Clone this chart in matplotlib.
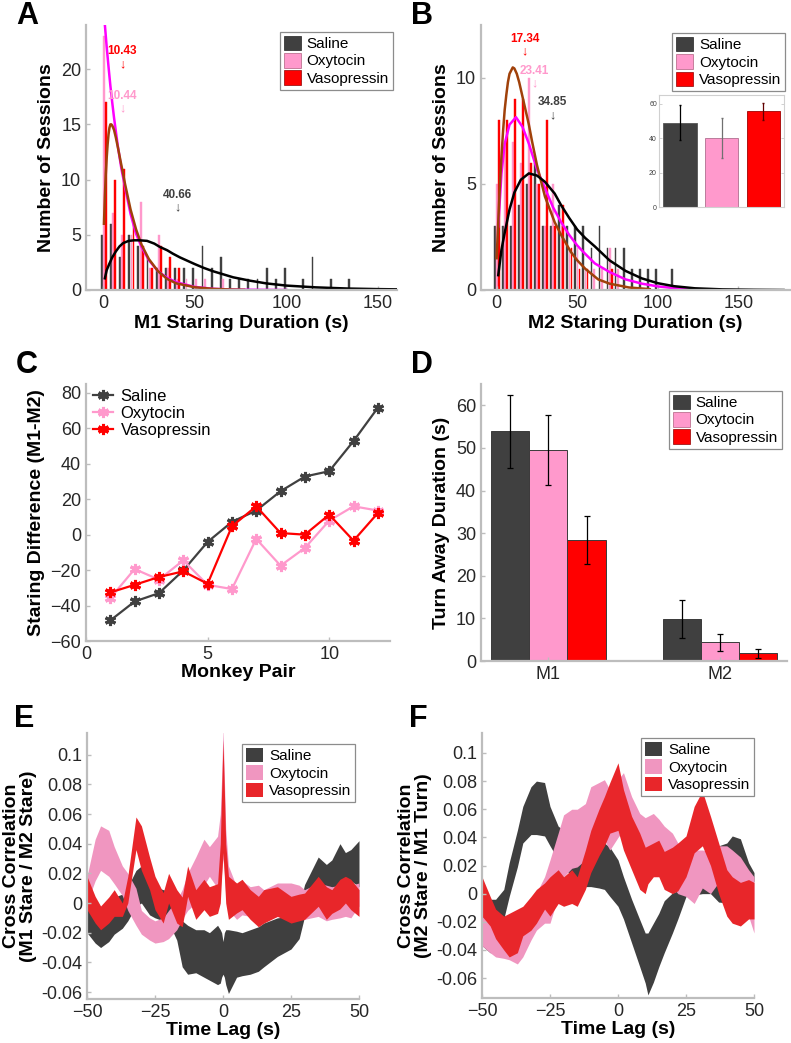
import matplotlib
matplotlib.use("Agg")
import matplotlib.pyplot as plt
import numpy as np
from matplotlib.patches import Patch

plt.rcParams["font.family"] = ["Liberation Sans", "DejaVu Sans"]

# ---- colours ----
C_SAL = "#404040"
C_OXY = "#FF99CC"
C_VAS = "#FF0000"
F_SAL = "#3F3F3F"
F_OXY = "#F096C0"
F_VAS = "#E8262A"
GROUPS = ["Saline", "Oxytocin", "Vasopressin"]

# ---- panel A: M1 staring duration histogram (bins of 5 s) ----
a_bins = [0, 5, 10, 15, 20, 25, 30, 35, 40, 45, 50, 55, 60, 65, 70, 75, 80, 85,
          90, 95, 100, 105, 110, 115, 120, 125, 130, 135]
a_saline = [5, 6, 3, 5, 4, 3, 2, 2, 2, 2, 2, 4, 2, 3, 1, 1, 1, 1, 2, 1, 2, 0, 1, 3, 0, 1, 0, 1]
a_oxy = [23, 7, 5, 5, 8, 2, 5, 2, 1, 1, 1, 1, 0, 1]
a_vaso = [17, 10, 11, 6, 4, 2, 4, 3, 2]

a_fit_oxy_x = [0, 1, 2, 3, 4, 5, 6, 8, 10, 12, 15, 18, 21, 25, 30, 35, 40, 50, 60, 70, 80, 90, 100]
a_fit_oxy_y = [26.5, 24, 22, 20.2, 18.5, 17, 15.6, 13.1, 11.0, 9.3, 6.9, 5.1, 3.9, 2.7, 1.7,
               1.1, 0.7, 0.28, 0.11, 0.04, 0.02, 0.01, 0.0]
a_fit_vas_x = [0.5, 1, 1.5, 2, 2.5, 3, 3.5, 4, 4.5, 5, 6, 7, 8, 10, 12, 15, 18, 21, 25, 30,
               35, 40, 50, 60, 70, 77]
a_fit_vas_y = [6, 8.5, 10.5, 12, 13.2, 14.1, 14.7, 15, 15, 14.9, 14.5, 13.8, 13.0, 11.3, 9.6,
               7.3, 5.5, 4.1, 2.8, 1.7, 1.0, 0.6, 0.25, 0.1, 0.04, 0.02]
a_fit_sal_x = [1, 2, 3.5, 5, 7, 9, 11, 14, 17, 20, 24, 28, 31, 35, 38, 42, 46, 50, 55, 60,
               65, 71, 80, 89, 100, 116, 134, 150, 160]
a_fit_sal_y = [1.06, 1.8, 2.4, 2.95, 3.5, 3.95, 4.25, 4.45, 4.5, 4.5, 4.45, 4.2, 3.9, 3.6,
               3.3, 2.95, 2.65, 2.35, 2.0, 1.7, 1.45, 1.15, 0.85, 0.6, 0.4, 0.24, 0.13, 0.08, 0.06]
a_means = [10.43, 10.44, 40.66]
a_mean_y = [21.6, 17.6, 8.6]

# ---- panel B: M2 staring duration histogram ----
b_bins = [0, 5, 10, 15, 20, 25, 30, 35, 40, 45, 50, 55, 60, 65, 70, 75, 80, 85, 90, 95,
          100, 105, 110]
b_saline = [3, 3, 3, 4, 5, 6, 3, 3, 4, 3, 3, 3, 2, 3, 2, 2, 2, 1, 1, 1, 1, 0, 1]
b_oxy = [5, 7, 7, 6, 10, 5, 3, 5, 3, 2, 2, 1, 1, 1, 2, 1]
b_vaso = [8, 8, 9, 9, 6, 5, 8, 3, 4, 2, 1, 1, 0, 0, 1]

b_fit_vas_x = [0, 1, 2, 3, 4, 5, 6, 7, 8, 10, 11, 12.5, 14, 15.5, 17, 20, 22, 25, 30, 36,
               40, 46, 50, 55, 63, 70, 82, 95]
b_fit_vas_y = [1.5, 3.2, 4.9, 6.3, 7.5, 8.5, 9.2, 9.8, 10.2, 10.5, 10.45, 10.2, 9.8, 9.3,
               8.8, 7.8, 7.0, 5.9, 4.4, 3.2, 2.6, 1.8, 1.4, 1.0, 0.5, 0.3, 0.12, 0.04]
b_fit_oxy_x = [1, 3, 5, 8, 12, 16, 20, 25, 30, 35, 40, 45, 50, 55, 61, 70, 80, 90, 100, 110,
               120, 129]
b_fit_oxy_y = [3.0, 5.5, 6.9, 7.8, 8.15, 7.7, 6.9, 5.7, 4.8, 3.9, 3.2, 2.6, 2.1, 1.7, 1.25,
               0.85, 0.5, 0.3, 0.17, 0.09, 0.04, 0.0]
b_fit_sal_x = [1, 3, 5, 8, 11, 15, 20, 25, 30, 36, 40, 45, 50, 55, 61, 70, 80, 90, 100, 110,
               123, 140, 160, 178]
b_fit_sal_y = [0.7, 1.9, 2.7, 3.8, 4.6, 5.2, 5.5, 5.4, 5.1, 4.55, 4.0, 3.4, 2.85, 2.45, 2.05,
               1.4, 0.9, 0.55, 0.32, 0.18, 0.08, 0.03, 0.01, 0.0]
b_means = [17.34, 23.41, 34.85]
b_mean_y = [11.84, 10.35, 8.85]

inset_means = [49, 40, 55.5]
inset_err_lo = [39, 28.3, 50.3]
inset_err_hi = [59, 51.5, 60.5]

# ---- panel C: staring difference per monkey pair ----
c_pairs = [1, 2, 3, 4, 5, 6, 7, 8, 9, 10, 11, 12]
c_saline = [-48.4, -37.7, -33.0, -20.2, -4.1, 7.2, 13.6, 24.5, 32.8, 35.8, 52.8, 71.6]
c_oxy = [-35.8, -19.4, -25.4, -14.5, -28.3, -30.7, -2.4, -17.5, -7.5, 7.9, 16.0, 13.6]
c_vaso = [-32.6, -28.3, -23.9, -20.7, -27.7, 4.7, 16.0, 0.9, 0.0, 11.3, -3.4, 12.2]

# ---- panel D: turn away duration ----
d_monkeys = ["M1", "M2"]
d_saline = [54.0, 9.9]
d_oxy = [49.5, 4.4]
d_vaso = [28.4, 1.8]
d_saline_lo = [45.3, 5.3]
d_saline_hi = [62.5, 14.4]
d_oxy_lo = [41.2, 2.3]
d_oxy_hi = [57.7, 6.4]
d_vaso_lo = [22.7, 0.8]
d_vaso_hi = [34.1, 2.9]

# ---- panel E: cross correlation M1 stare / M2 stare ----
e_lag = [-50, -47, -45, -42, -40, -37, -35, -32, -30, -27, -25, -22, -20, -17, -15, -13, -10,
         -7, -5, -2, -1, -0.5, 0, 0.5, 1, 2, 5, 7, 10, 13, 15, 20, 25, 28, 30, 35, 38, 40,
         43, 45, 47, 50]
e_sal_hi = [0.0, -0.003, -0.0045, -0.002, 0.004, 0.006, 0.011, 0.022, 0.025, 0.018, 0.011,
            0.009, 0.008, 0.0, -0.012, -0.015, -0.018, -0.018, -0.02, -0.015, -0.018, -0.02,
            -0.026, -0.02, -0.018, -0.018, -0.019, -0.02, -0.018, -0.016, -0.0135, -0.01,
            -0.009, -0.002, 0.0125, 0.031, 0.026, 0.029, 0.040, 0.034, 0.036, 0.042]
e_sal_lo = [-0.02, -0.027, -0.03, -0.026, -0.021, -0.017, -0.012, -0.002, 0.0, -0.008, -0.01,
            -0.012, -0.013, -0.025, -0.043, -0.048, -0.047, -0.05, -0.052, -0.055, -0.054,
            -0.05, -0.048, -0.05, -0.055, -0.061, -0.05, -0.049, -0.048, -0.046, -0.043,
            -0.036, -0.031, -0.024, -0.009, 0.009, 0.006, 0.009, 0.0135, 0.011, 0.015, 0.011]
e_oxy_hi = [0.018, 0.043, 0.052, 0.049, 0.038, 0.025, 0.02, 0.01, -0.005, -0.01, -0.012,
            -0.01, -0.005, 0.002, 0.009, 0.02, 0.031, 0.043, 0.038, 0.045, 0.06, 0.085, 0.118,
            0.085, 0.05, 0.025, 0.011, 0.015, 0.011, 0.012, 0.009, 0.0135, 0.0135, 0.012,
            0.009, 0.0135, 0.012, 0.011, 0.012, 0.009, 0.012, 0.0135]
e_oxy_lo = [0.0, 0.015, 0.022, 0.018, 0.013, 0.005, -0.005, -0.015, -0.021, -0.025, -0.027,
            -0.026, -0.024, -0.018, -0.011, -0.005, 0.0, 0.012, 0.018, 0.01, 0.01, 0.02, 0.03,
            0.02, 0.005, -0.0045, -0.011, -0.008, -0.009, -0.012, -0.012, -0.009, -0.0067,
            -0.01, -0.011, -0.009, -0.012, -0.011, -0.01, -0.009, -0.01, -0.002]
e_vas_hi = [0.018, 0.0045, -0.002, 0.004, 0.009, 0.0, 0.018, 0.058, 0.052, 0.031, 0.018,
            0.007, 0.02, 0.009, 0.004, 0.025, 0.009, 0.016, 0.011, 0.013, 0.04, 0.076, 0.11,
            0.076, 0.04, 0.018, 0.0135, 0.016, 0.009, 0.0045, 0.009, 0.011, 0.0045, 0.006,
            0.0067, 0.018, 0.011, 0.009, 0.016, 0.018, 0.016, 0.009]
e_vas_lo = [-0.0045, -0.0135, -0.018, -0.0135, -0.009, -0.009, 0.0, 0.036, 0.022, 0.009,
            -0.0045, -0.0135, 0.0, -0.0135, -0.016, 0.0045, -0.011, -0.0045, -0.009, -0.007,
            0.0, 0.018, 0.034, 0.018, 0.0, -0.011, -0.0067, -0.0045, -0.011, -0.016, -0.0135,
            -0.009, -0.0135, -0.012, -0.011, -0.0022, -0.011, -0.007, -0.004, 0.0, -0.0045,
            -0.009]

# ---- panel F: cross correlation M2 stare / M1 turn ----
f_lag = [-50, -47, -45, -42, -40, -37, -35, -32, -30, -27, -25, -22, -20, -17, -15, -12, -10,
         -7, -5, -3, 0, 2, 5, 8, 10, 11, 13, 15, 17, 20, 22, 25, 28, 31, 34, 37, 40, 42, 45,
         48, 50]
f_sal_hi = [-0.0066, -0.004, -0.004, 0.003, 0.022, 0.045, 0.062, 0.076, 0.080, 0.079, 0.062,
            0.048, 0.045, 0.024, 0.024, 0.026, 0.029, 0.032, 0.036, 0.033, 0.024, 0.012, -0.004,
            -0.0185, -0.028, -0.028, -0.021, -0.014, -0.005, 0.0005, 0.002, 0.003, 0.01, 0.015,
            0.025, 0.034, 0.036, 0.041, 0.039, 0.022, 0.015]
f_sal_lo = [-0.037, -0.042, -0.042, -0.018, -0.002, 0.019, 0.036, 0.042, 0.042, 0.041, 0.034,
            0.024, 0.019, 0.012, 0.003, 0.005, 0.005, 0.004, 0.003, -0.002, -0.009, -0.018,
            -0.035, -0.052, -0.0635, -0.072, -0.063, -0.052, -0.042, -0.028, -0.018, -0.002,
            -0.001, 0.0, 0.0, -0.006, -0.0066, -0.009, -0.008, 0.0, 0.009]
f_oxy_hi = [-0.016, -0.02, -0.022, -0.025, -0.027, -0.019, -0.016, -0.007, 0.0005, 0.012,
            0.024, 0.043, 0.056, 0.06, 0.06, 0.064, 0.076, 0.079, 0.081, 0.074, 0.081, 0.086,
            0.069, 0.057, 0.054, 0.055, 0.057, 0.053, 0.048, 0.043, 0.036, 0.034, 0.031, 0.031,
            0.03, 0.034, 0.034, 0.031, 0.026, 0.017, 0.012]
f_oxy_lo = [-0.037, -0.042, -0.045, -0.046, -0.047, -0.05, -0.045, -0.033, -0.026, -0.021,
            -0.021, -0.002, 0.012, 0.018, 0.019, 0.024, 0.036, 0.04, 0.038, 0.031, 0.04, 0.045,
            0.026, 0.024, 0.022, 0.024, 0.028, 0.029, 0.017, 0.005, 0.0, -0.002, -0.007, 0.004,
            0.0, 0.008, 0.012, 0.003, -0.007, -0.016, -0.028]
f_vas_hi = [0.012, -0.002, -0.011, -0.016, -0.014, -0.011, -0.009, -0.002, 0.003, 0.0076,
            0.012, 0.017, 0.012, 0.017, 0.012, 0.031, 0.045, 0.06, 0.069, 0.079, 0.093, 0.074,
            0.055, 0.043, 0.033, 0.034, 0.036, 0.038, 0.03, 0.033, 0.036, 0.041, 0.062, 0.073,
            0.055, 0.036, 0.017, 0.012, 0.008, 0.01, 0.008]
f_vas_lo = [-0.016, -0.023, -0.032, -0.04, -0.045, -0.042, -0.03, -0.026, -0.021, -0.011,
            -0.016, -0.007, -0.009, -0.007, -0.009, 0.003, 0.015, 0.027, 0.034, 0.043, 0.045,
            0.031, 0.017, 0.003, 0.0, 0.007, 0.012, 0.012, 0.003, 0.0, 0.002, 0.012, 0.029,
            0.034, 0.02, 0.0, -0.016, -0.021, -0.023, -0.018, -0.018]


W, H = 791, 1043


def add_axes(fig, left, right, top, bottom):
    return fig.add_axes([left / W, 1 - bottom / H, (right - left) / W, (bottom - top) / H])


def style_ax(ax, labelsize=13):
    for s in ["top", "right"]:
        ax.spines[s].set_visible(False)
    for s in ["left", "bottom"]:
        ax.spines[s].set_color("#BDBDBD")
        ax.spines[s].set_linewidth(1.6)
    ax.tick_params(direction="in", length=3, width=1, color="#BDBDBD",
                   labelsize=labelsize, labelcolor="#262626")


def box_legend(ax, handles, anchor, fontsize=11):
    leg = ax.legend(handles, GROUPS, loc="upper right", bbox_to_anchor=anchor,
                    bbox_transform=fig.transFigure, fontsize=fontsize, fancybox=False,
                    framealpha=1, edgecolor="#8C8C8C", borderpad=0.25, labelspacing=0.12,
                    handlelength=1.1, handleheight=1.1, handletextpad=0.4, borderaxespad=0)
    leg.get_frame().set_linewidth(0.9)
    return leg


def hist_panel(ax, bins, series, offsets, width, fits, means, mean_y, xlim, ylim, xlabel):
    colors = [C_SAL, C_OXY, C_VAS]
    for vals, off, col in zip(series, offsets, colors):
        ax.bar(np.array(bins[:len(vals)]) + off, vals, width=width, color=col,
               edgecolor=col, linewidth=0.3)
    fit_cols = ["#FF00FF", "#A0410A", "black"]
    for (fx, fy), col in zip(fits, fit_cols):
        ax.plot(fx, fy, color=col, lw=1.8)
    txt_cols = [C_VAS, C_OXY, "#404040"]
    for m, y, col in zip(means, mean_y, txt_cols):
        ax.text(m, y, f"{m:.2f}", color=col, fontsize=8.5, fontweight="bold",
                ha="center", va="center")
        ax.text(m, y - 1.15 * (ylim[1] / 24), "\u2193", color=col, fontsize=9,
                ha="center", va="center")
    ax.set_xlim(*xlim)
    ax.set_ylim(*ylim)
    ax.set_xticks([0, 50, 100, 150])
    ax.set_xlabel(xlabel, fontsize=14, fontweight="bold", labelpad=2)
    ax.set_ylabel("Number of Sessions", fontsize=14, fontweight="bold", labelpad=4)
    style_ax(ax)


fig = plt.figure(figsize=(W / 100, H / 100), dpi=100)

patches = [Patch(facecolor=C_SAL, edgecolor="#222222", lw=0.5),
           Patch(facecolor=C_OXY, edgecolor="#B06080", lw=0.5),
           Patch(facecolor=C_VAS, edgecolor="#900000", lw=0.5)]

# A
axA = add_axes(fig, 86, 397, 25, 290)
hist_panel(axA, a_bins, [a_saline, a_oxy, a_vaso], [-0.7, 0.5, 1.6], 1.0,
           [(a_fit_oxy_x, a_fit_oxy_y), (a_fit_vas_x, a_fit_vas_y), (a_fit_sal_x, a_fit_sal_y)],
           a_means, a_mean_y, (-9.3, 160.4), (0, 24), "M1 Staring Duration (s)")
axA.set_yticks([0, 5, 10, 15, 20])
box_legend(axA, patches, (392.7 / W, 1 - 31.7 / H))

# B
axB = add_axes(fig, 481, 790, 25, 290)
hist_panel(axB, b_bins, [b_saline, b_oxy, b_vaso], [-1.2, 0.2, 1.4], 1.1,
           [(b_fit_oxy_x, b_fit_oxy_y), (b_fit_vas_x, b_fit_vas_y), (b_fit_sal_x, b_fit_sal_y)],
           b_means, b_mean_y, (-9.7, 182), (0, 12.5), "M2 Staring Duration (s)")
axB.set_yticks([0, 5, 10])
box_legend(axB, patches, (785 / W, 1 - 33 / H))

# B inset
axI = add_axes(fig, 659, 784, 95, 207)
inset_x = np.arange(1, 4)
axI.bar(inset_x, inset_means, width=0.8, color=[C_SAL, C_OXY, C_VAS],
        edgecolor=["#555555", "#B07090", "#A00000"], linewidth=0.6)
err_cols = ["black", "#707070", "#600000"]
for xi, m, lo, hi, ec in zip(inset_x, inset_means, inset_err_lo, inset_err_hi, err_cols):
    axI.errorbar(xi, m, yerr=[[m - lo], [hi - m]], color=ec, lw=0.9, capsize=1)
axI.set_xlim(0.5, 3.5)
axI.set_ylim(0, 65)
axI.set_yticks([0, 20, 40, 60])
axI.set_xticks([])
for s in axI.spines.values():
    s.set_color("#D0D0D0")
    s.set_linewidth(0.8)
axI.tick_params(direction="in", length=2, width=0.5, color="#BDBDBD", labelsize=5,
                labelcolor="#404040", pad=1.5, right=True)

# C
axC = add_axes(fig, 86, 390, 384, 641)
star = (6, 2, 0)
for vals, col, lab in zip([c_saline, c_oxy, c_vaso], [C_SAL, C_OXY, C_VAS], GROUPS):
    axC.plot(c_pairs, vals, color=col, lw=1.6, marker=star, markersize=8,
             markeredgewidth=2.2, label=lab)
axC.set_xlim(0, 12.5)
axC.set_ylim(-60, 85)
axC.set_xticks([0, 5, 10])
axC.set_yticks([-60, -40, -20, 0, 20, 40, 60, 80])
axC.set_xlabel("Monkey Pair", fontsize=14, fontweight="bold", labelpad=1)
axC.set_ylabel("Staring Difference (M1-M2)", fontsize=14, fontweight="bold", labelpad=4)
style_ax(axC)
axC.legend(loc="upper left", bbox_to_anchor=(93 / W, 1 - 389 / H),
           bbox_transform=fig.transFigure, frameon=False, fontsize=12,
           handlelength=1.2, handletextpad=0.45, labelspacing=0.12, borderaxespad=0,
           borderpad=0)

# D
axD = add_axes(fig, 481, 787, 384, 661)
dx = np.arange(1, 3)
bw = 0.222
d_series = [(d_saline, d_saline_lo, d_saline_hi, C_SAL),
            (d_oxy, d_oxy_lo, d_oxy_hi, C_OXY),
            (d_vaso, d_vaso_lo, d_vaso_hi, C_VAS)]
for i, (vals, lo, hi, col) in enumerate(d_series):
    xs = dx + (i - 1) * bw
    axD.bar(xs, vals, width=bw, color=col, edgecolor="#3A3A3A", linewidth=0.7)
    axD.errorbar(xs, vals, yerr=[np.subtract(vals, lo), np.subtract(hi, vals)],
                 fmt="none", ecolor="black", elinewidth=0.9, capsize=2.5, capthick=0.9)
axD.set_xlim(0.607, 2.39)
axD.set_ylim(0, 65)
axD.set_xticks(dx)
axD.set_xticklabels(d_monkeys)
axD.set_yticks([0, 10, 20, 30, 40, 50, 60])
axD.set_ylabel("Turn Away Duration (s)", fontsize=14, fontweight="bold", labelpad=4)
style_ax(axD)
box_legend(axD, patches, (781.7 / W, 1 - 390.7 / H))

# E and F
fill_patches = [Patch(facecolor=F_SAL), Patch(facecolor=F_OXY), Patch(facecolor=F_VAS)]


def xcorr_panel(ax, lag, bands, ylim, ylabel):
    for (lo, hi), col in zip(bands, [F_SAL, F_OXY, F_VAS]):
        ax.fill_between(lag, lo, hi, color=col, linewidth=0)
    ax.set_xlim(-50, 50)
    ax.set_ylim(*ylim)
    ax.set_xticks([-50, -25, 0, 25, 50])
    ax.set_yticks([-0.06, -0.04, -0.02, 0, 0.02, 0.04, 0.06, 0.08, 0.1])
    ax.set_yticklabels(["-0.06", "-0.04", "-0.02", "0", "0.02", "0.04", "0.06", "0.08", "0.1"])
    ax.set_xlabel("Time Lag (s)", fontsize=14, fontweight="bold", labelpad=1)
    ax.set_ylabel(ylabel, fontsize=14, fontweight="bold", labelpad=3, linespacing=0.95)
    style_ax(ax)


axE = add_axes(fig, 87, 359, 733, 999)
xcorr_panel(axE, e_lag, [(e_sal_lo, e_sal_hi), (e_oxy_lo, e_oxy_hi), (e_vas_lo, e_vas_hi)],
            (-0.0647, 0.1146), "Cross Correlation\n(M1 Stare / M2 Stare)")
box_legend(axE, fill_patches, (355 / W, 1 - 744 / H))

axF = add_axes(fig, 482, 754, 733, 998)
xcorr_panel(axF, f_lag, [(f_sal_lo, f_sal_hi), (f_oxy_lo, f_oxy_hi), (f_vas_lo, f_vas_hi)],
            (-0.0742, 0.1142), "Cross Correlation\n(M2 Stare / M1 Turn)")
box_legend(axF, fill_patches, (754 / W, 1 - 738 / H))

# panel letters
for letter, x, y in [("A", 16, 1), ("B", 411, 1), ("C", 16, 350), ("D", 411, 350),
                     ("E", 14, 704), ("F", 409, 704)]:
    fig.text(x / W, 1 - y / H, letter, fontsize=22, fontweight="bold", va="top", ha="left")

fig.savefig("out.png", dpi=100)
